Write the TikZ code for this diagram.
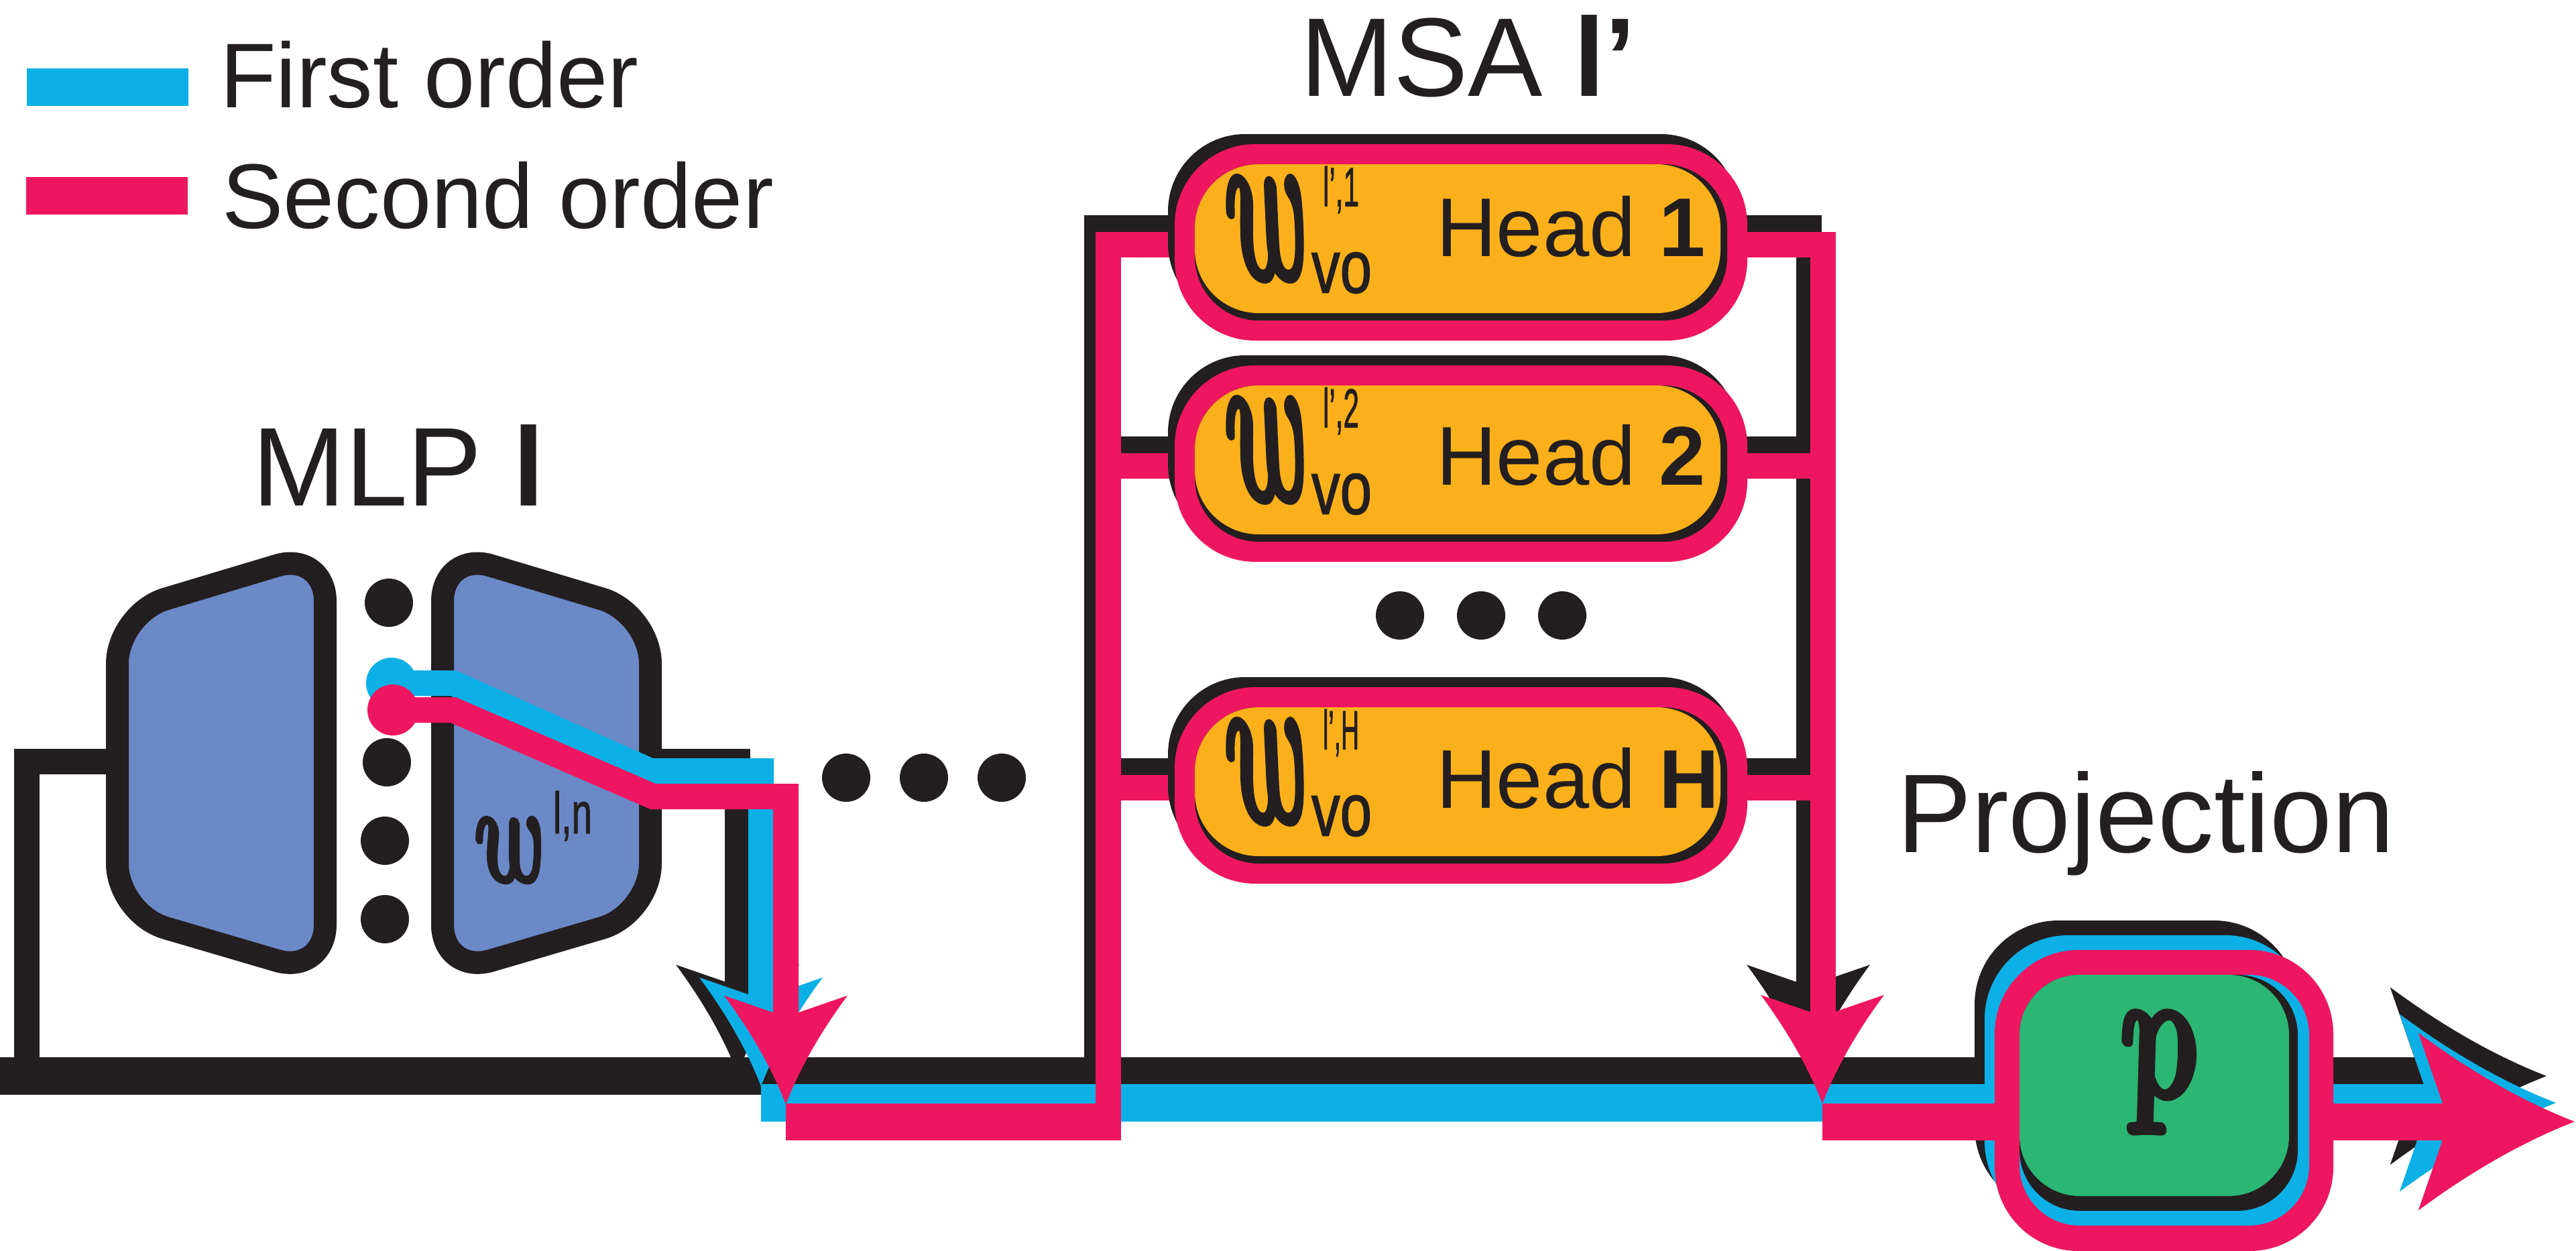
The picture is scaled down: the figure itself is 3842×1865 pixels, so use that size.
\documentclass[tikz,border=0pt]{standalone}
\usepackage{fontspec}
\setmainfont{Liberation Sans}
\newfontfamily\wfont[FakeBold=4, ItalicFeatures={FakeBold=4}]{Latin Modern Roman}
\newfontfamily\ssfont[FakeBold=1.5]{Liberation Sans}
\usepackage{graphicx}
\newlength\px \setlength\px{0.1mm}
\definecolor{kblack}{RGB}{35,31,32}
\definecolor{cblue}{RGB}{13,176,230}
\definecolor{cred}{RGB}{238,22,96}
\definecolor{corange}{RGB}{250,176,26}
\definecolor{cgreen}{RGB}{43,182,115}
\definecolor{cmlp}{RGB}{108,137,199}
\tikzset{
  ahead/.pic={\fill (0,0) .. controls (-21,-54) and (-52,-108) .. (-92,-162) -- (-19.5,-137) -- (19.5,-137) -- (92,-162) .. controls (52,-108) and (21,-54) .. (0,0) -- cycle;},
  txt/.style={inner sep=0pt, outer sep=0pt, text=kblack},
  hand/.style={txt, xslant=-0.18, transform shape},
  legtxt/.style={txt, font=\fontsize{39pt}{40pt}\selectfont},
  ttltxt/.style={txt, font=\fontsize{47.5pt}{48pt}\selectfont},
  headtxt/.style={txt, font=\fontsize{35.4pt}{36pt}\selectfont},
  dotnode/.style={circle, fill=kblack, inner sep=0pt, minimum size=72\px},
  kline/.style={draw=kblack, line width=38\px},
  bline/.style={draw=cblue, line width=38\px},
  rline/.style={draw=cred, line width=38\px},
  wide/.style={line width=56\px},
  mlpblock/.style={draw=kblack, line width=34\px, fill=cmlp, rounded corners=75\px},
}
\newcommand\wglyph{{\wfont\itshape w}}
\newcommand\msahead[4]{%
  \fill[kblack, rounded corners=115\px] (1742,{#2-15}) rectangle (2592,{#2+263});
  \fill[cred, rounded corners=120\px] (1752,#2) rectangle (2606,{#2+293});
  \fill[kblack, rounded corners=95\px] (1782,{#2+30}) rectangle (2576,{#2+263});
  \fill[corange, rounded corners=95\px] (1782,{#2+30}) rectangle (2566,{#2+252});
  \node[hand] (w#1) at (1881,{#2+126}) {\resizebox{118\px}{147\px}{\wglyph}};
  \node[txt] (sup#1) at (2000,{#2+68}) {\resizebox*{54\px}{70\px}{\ssfont l’,#3}};
  \node[txt] (sub#1) at (2001,{#2+192}) {\resizebox{90\px}{60\px}{\ssfont vo}};
  \node[headtxt, anchor=base west] (lab#1) at (2142,#4) {Head \textbf{#3}};
}
\begin{document}
\begin{tikzpicture}[x=0.1mm, y=-0.1mm, line join=miter, line cap=butt]
\useasboundingbox (0,0) rectangle (3842,1865);

% ---------- coordinates ----------
\coordinate (mL) at (0,1605);
\coordinate (mR) at (3606,1605);
\coordinate (rsA) at (40,1605);
\coordinate (rsB) at (40,1136);
\coordinate (m1W) at (175,1136);
\coordinate (m2E) at (970,1136);
\coordinate (kOutC) at (1100,1136);
\coordinate (kOutJ) at (1100,1465);
\coordinate (kTip1) at (1100,1601);
\coordinate (kBrB) at (1636,1605);
\coordinate (kBrT) at (1636,340);
\coordinate (kBrRT) at (2698,340);
\coordinate (kBrRJ) at (2698,1465);
\coordinate (kTip2) at (2697,1601);
\coordinate (kTip3) at (3798,1605);

\coordinate (bL) at (1135,1645);
\coordinate (bR) at (3620,1645);
\coordinate (bP1) at (676,1019);
\coordinate (bP2) at (970,1150);
\coordinate (bP3) at (1135,1150);
\coordinate (bJ) at (1135,1485);
\coordinate (bTip1) at (1135,1620);
\coordinate (bTip2) at (3812,1645);

\coordinate (rL) at (1172,1673);
\coordinate (rM) at (1672,1673);
\coordinate (rP1) at (676,1059);
\coordinate (rP2) at (974,1188);
\coordinate (rP3) at (1172,1188);
\coordinate (rJ) at (1172,1512);
\coordinate (rTip1) at (1172,1647);
\coordinate (rBrB) at (1653,1700);
\coordinate (rBrT) at (1653,365);
\coordinate (rBrRT) at (2719,365);
\coordinate (rBrRJ) at (2719,1512);
\coordinate (rTip2) at (2718,1646);
\coordinate (r2L) at (2718,1673);
\coordinate (r2R) at (3648,1673);
\coordinate (rTip3) at (3840,1673);

% ---------- legend ----------
\draw[cblue, wide] (40,130) -- (281,130);
\draw[cred, wide] (39,292) -- (280,292);
\node[legtxt, anchor=base west] (leg1) at (328,160) {First order};
\node[legtxt, anchor=base west] (leg2) at (331,340) {Second order};

% ---------- black layer ----------
\draw[kline, wide] (mL) -- (mR);
\draw[kline] (rsA) -- (rsB) -- (m1W);
\draw[kline] (m2E) -- (kOutC) -- (kOutJ);
\draw[kline] (kBrB) -- (kBrT) -- (kBrRT) -- (kBrRJ);
\draw[kline] (1636,670) coordinate (kh2L) -- (2698,670) coordinate (kh2R);
\draw[kline] (1636,1150) coordinate (khHL) -- (2698,1150) coordinate (khHR);
\pic[color=kblack] at (kTip1) {ahead};
\pic[color=kblack] at (kTip2) {ahead};
\pic[color=kblack, rotate=90, scale=1.44] at (kTip3) {ahead};

% ---------- MLP blocks ----------
\draw[mlpblock] (175,915) -- (485,822) -- (485,1454) -- (175,1363) -- cycle;
\draw[mlpblock] (660,822) -- (970,915) -- (970,1363) -- (660,1454) -- cycle;
\node[dotnode] (md1) at (580,899) {};
\node[dotnode] (md2) at (584,1019) {};
\node[dotnode] (md3) at (577,1137) {};
\node[dotnode] (md4) at (574,1254) {};
\node[dotnode] (md5) at (574,1371) {};
\node[dotnode] (hd1) at (1262,1160) {};
\node[dotnode] (hd2) at (1378,1160) {};
\node[dotnode] (hd3) at (1494,1160) {};
\node[dotnode] (sd1) at (2088,918) {};
\node[dotnode] (sd2) at (2209,918) {};
\node[dotnode] (sd3) at (2330,918) {};
\node[hand] (mw) at (753,1268) {\resizebox{101\px}{92\px}{\wglyph}};
\node[txt] (msup) at (854,1217) {\resizebox*{58\px}{74\px}{\ssfont l,n}};

% ---------- projection shadow (black) ----------
\fill[kblack, rounded corners=125\px] (2945,1373) rectangle (3427,1806);

% ---------- blue layer ----------
\draw[cblue, wide] (bL) -- (bR);
\node[circle, fill=cblue, inner sep=0pt, minimum size=76\px] (bdot) at (584,1019) {};
\draw[bline] (bdot.center) -- (bP1) -- (bP2) -- (bP3) -- (bJ);
\pic[color=cblue] at (bTip1) {ahead};
\pic[color=cblue, rotate=90, scale=1.44] at (bTip2) {ahead};
\fill[cblue, rounded corners=125\px] (2960,1395) rectangle (3444,1828);

% ---------- red layer ----------
\node[circle, fill=cred, inner sep=0pt, minimum size=76\px] (rdot) at (586,1059) {};
\draw[rline] (rdot.center) -- (rP1) -- (rP2) -- (rP3) -- (rJ);
\pic[color=cred] at (rTip1) {ahead};
\draw[cred, line width=55\px] (rL) -- (rM);
\draw[rline] (rBrB) -- (rBrT) -- (rBrRT) -- (rBrRJ);
\draw[rline] (1653,695) coordinate (rh2L) -- (2719,695) coordinate (rh2R);
\draw[rline] (1653,1175) coordinate (rhHL) -- (2719,1175) coordinate (rhHR);
\pic[color=cred] at (rTip2) {ahead};
\draw[cred, line width=55\px] (r2L) -- (r2R);
\pic[color=cred, rotate=90, scale=1.44] at (rTip3) {ahead};

% ---------- attention heads ----------
\msahead{1}{215}{1}{382}
\msahead{2}{545}{2}{723}
\msahead{H}{1025}{H}{1205}

% ---------- projection box ----------
\fill[cred, rounded corners=125\px] (2975,1417) rectangle (3480,1866);
\fill[cblue, rounded corners=90\px] (3012,1454) rectangle (3444,1828);
\fill[kblack, rounded corners=90\px] (3012,1454) rectangle (3427,1806);
\fill[cgreen, rounded corners=90\px] (3012,1454) rectangle (3414,1784);
\node[hand] (pp) at (3218,1599) {\resizebox*{120\px}{178\px}{\wfont\itshape p}};

% ---------- titles ----------
\node[ttltxt, anchor=base west] (tmlp) at (376,754) {MLP \textbf{l}};
\node[ttltxt, anchor=base west] (tmsa) at (1939,143) {MSA \textbf{l’}};
\node[ttltxt, anchor=base west] (tproj) at (2829,1271) {Projection};
\end{tikzpicture}
\end{document}
